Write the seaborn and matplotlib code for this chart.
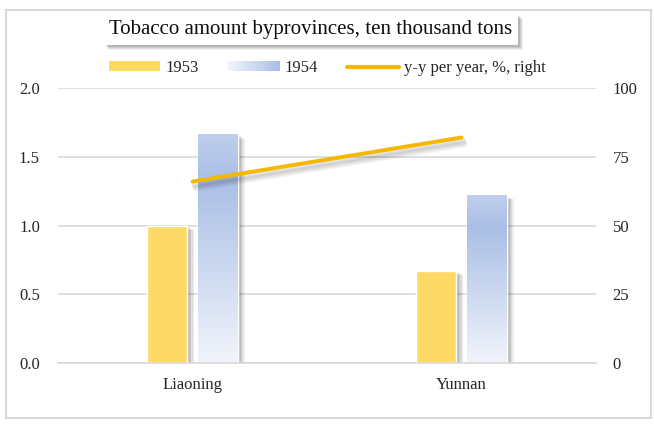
import numpy as np
import pandas as pd
import seaborn as sns
import matplotlib
matplotlib.use('Agg')
import matplotlib.pyplot as plt
import matplotlib.patheffects as pe
from matplotlib.patches import Rectangle, Patch
from matplotlib.lines import Line2D
from matplotlib.colors import LinearSegmentedColormap
from matplotlib.legend_handler import HandlerBase

# data
provinces = ['Liaoning', 'Yunnan']
years = ['1953', '1954']
amount_1953 = [1.00, 0.67]
amount_1954 = [1.66, 1.22]
yy_change = [66, 82]
left_ticks = [0.0, 0.5, 1.0, 1.5, 2.0]
right_ticks = [0, 25, 50, 75, 100]
title = 'Tobacco amount byprovinces, ten thousand tons'
line_label = 'y-y per year, %, right'

yellow = '#ffd966'
gold = '#f4b800'
grid_col = '#d9d9d9'
blue_cmap = LinearSegmentedColormap.from_list(
    'blue_grad', [(0.0, '#bfceec'), (0.2, '#aabfe6'), (1.0, '#f1f4fb')])

sns.set_style('white')
plt.rcParams['font.family'] = ['Liberation Serif', 'DejaVu Serif']
plt.rcParams['font.size'] = 12

df = pd.DataFrame({'province': provinces * 2,
                   'year': [years[0]] * 2 + [years[1]] * 2,
                   'amount': amount_1953 + amount_1954})

fig = plt.figure(figsize=(6.54, 4.24), dpi=100)
ax = fig.add_axes([58 / 654, 1 - 363 / 424, 538 / 654, 275 / 424])

sns.barplot(data=df, x='province', y='amount', hue='year',
            palette=[yellow, '#b4c7e7'], width=0.376, gap=0.21,
            ax=ax, legend=False, saturation=1)

# soft drop shadow, built from a few faint offset copies
shadow = [pe.SimplePatchShadow(offset=(o, -o * 0.6), shadow_rgbFace='k', alpha=0.07)
          for o in (5, 4, 3, 2)] + [pe.Normal()]
for bar in ax.containers[0]:
    bar.set_path_effects(shadow)
    bar.set_zorder(2)
grad = blue_cmap(np.linspace(0, 1, 256))[:, None, :]
for bar in ax.containers[1]:
    x0, y0 = bar.get_x(), bar.get_y()
    x1, y1 = x0 + bar.get_width(), y0 + bar.get_height()
    bar.set_facecolor('none')
    bar.set_path_effects(shadow)
    bar.set_zorder(2)
    ax.imshow(grad, extent=[x0, x1, y0, y1], aspect='auto', zorder=2.5, origin='upper')

ax.set_xlim(-0.5, 1.5)
ax.set_ylim(0, 2.0)
ax.set_yticks(left_ticks)
ax.set_yticklabels([f'{t:.1f}' for t in left_ticks])
ax.set_xlabel('')
ax.set_ylabel('')
ax.set_axisbelow(True)
ax.yaxis.grid(True, color=grid_col, lw=1.2)
for s in ['left', 'right', 'top']:
    ax.spines[s].set_visible(False)
ax.spines['bottom'].set_color(grid_col)
ax.spines['bottom'].set_linewidth(1.2)
ax.tick_params(axis='y', length=0, pad=13, colors='#262626', labelsize=12)
ax.tick_params(axis='x', length=0, pad=10, colors='#262626', labelsize=12)

ax2 = ax.twinx()
line_shadow = [pe.SimpleLineShadow(offset=(o * 0.5, -o), alpha=0.05, linewidth=4)
               for o in (5, 4, 3, 2)] + [pe.Normal()]
sns.lineplot(x=provinces, y=yy_change, ax=ax2, color=gold, lw=2.8,
             solid_capstyle='round', path_effects=line_shadow)
ax2.set_ylim(0, 100)
ax2.set_yticks(right_ticks)
ax2.tick_params(axis='y', length=0, pad=12, colors='#262626', labelsize=12)
ax2.set_ylabel('')
for s in ax2.spines.values():
    s.set_visible(False)
ax2.grid(False)
ax.set_xlim(-0.5, 1.5)


# legend with gradient patch for 1954
class GradientHandler(HandlerBase):
    def create_artists(self, legend, orig_handle, xdescent, ydescent,
                       width, height, fontsize, trans):
        n = 40
        arts = []
        for i in range(n):
            c = blue_cmap(1 - i / (n - 1) * 0.8)
            r = Rectangle((-xdescent + i * width / n, -ydescent), width / n * 1.1, height,
                          facecolor=c, edgecolor='none', transform=trans)
            arts.append(r)
        return arts


h1 = Patch(facecolor=yellow, edgecolor='none')
h2 = Patch(facecolor='#b4c7e7', edgecolor='none')
h3 = Line2D([], [], color=gold, lw=3, solid_capstyle='round')
fig.legend([h1, h2, h3], [years[0], years[1], line_label], ncol=3,
           loc='center', bbox_to_anchor=(0.5, 1 - 68 / 424), frameon=False,
           fontsize=12, handlelength=3.1, handleheight=0.5, handletextpad=0.3,
           columnspacing=1.75, handler_map={h2: GradientHandler()})

# title box with shadow
bx, by, bw, bh = 104 / 654, 1 - 45 / 424, 414 / 654, 31 / 424
for k, a in [(5, 0.05), (4, 0.07), (3, 0.09), (2, 0.1)]:
    fig.patches.append(Rectangle((bx + k / 654, by - k / 424), bw, bh, transform=fig.transFigure,
                                 facecolor='k', alpha=a, edgecolor='none', zorder=1))
fig.patches.append(Rectangle((bx, by), bw, bh, transform=fig.transFigure,
                             facecolor='white', edgecolor='none', zorder=2))
fig.text(bx + bw / 2, by + bh / 2, title, ha='center', va='center', fontsize=15,
         color='#0d0d0d', zorder=3)

# outer border
fig.patches.append(Rectangle((6 / 654, 1 - 418 / 424), 645 / 654, 408 / 424,
                             transform=fig.transFigure, facecolor='none',
                             edgecolor=grid_col, lw=1.5, zorder=0))

fig.savefig('out.png', dpi=100)
